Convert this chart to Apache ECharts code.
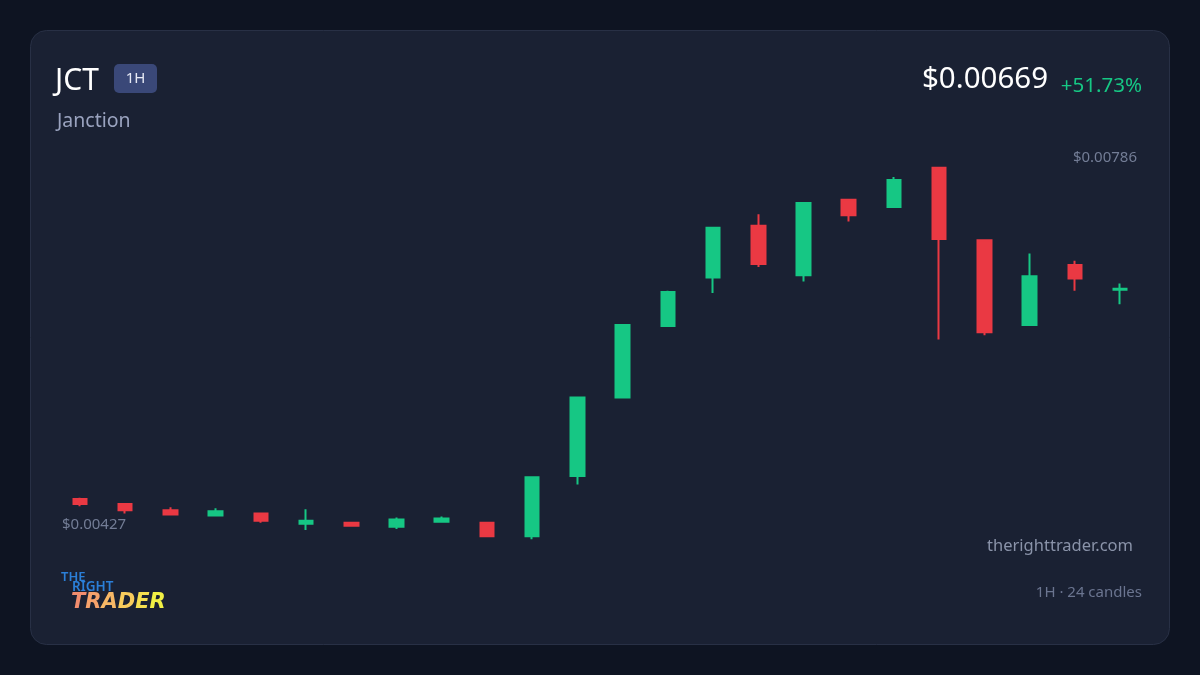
<!DOCTYPE html>
<html><head><meta charset="utf-8">
<script src="https://cdn.jsdelivr.net/npm/echarts@6/dist/echarts.min.js"></script>
<style>html,body{margin:0;padding:0;background:#0e1422;}#c{width:1200px;height:675px;}</style>
</head><body><div id="c"></div>
<script>
const categories = ['1','2','3','4','5','6','7','8','9','10','11','12','13','14','15','16','17','18','19','20','21','22','23','24'];
const opens  = [0.00466,0.00461,0.00455,0.00450,0.00452,0.00442,0.00443,0.00439,0.00444,0.00443,0.00430,0.00488,0.00564,0.00633,0.00680,0.00730,0.00682,0.00755,0.00748,0.00786,0.00716,0.00634,0.00692,0.00668];
const closes = [0.00461,0.00455,0.00451,0.00454,0.00445,0.00445,0.00440,0.00446,0.00447,0.00430,0.00487,0.00564,0.00634,0.00666,0.00728,0.00693,0.00752,0.00740,0.00774,0.00717,0.00627,0.00681,0.00679,0.00669];
const lows   = [0.00459,0.00452,0.00450,0.00449,0.00443,0.00436,0.00439,0.00437,0.00443,0.00430,0.00427,0.00480,0.00564,0.00632,0.00665,0.00690,0.00676,0.00734,0.00748,0.00620,0.00624,0.00634,0.00667,0.00654];
const highs  = [0.00467,0.00461,0.00458,0.00457,0.00452,0.00456,0.00444,0.00448,0.00449,0.00443,0.00487,0.00564,0.00634,0.00667,0.00728,0.00741,0.00752,0.00755,0.00777,0.00786,0.00716,0.00703,0.00696,0.00674];
const symbol = 'JCT', name = 'Janction', timeframe = '1H';
const lastPrice = '$0.00669', change = '+51.73%';
const highLabel = '$0.00786', lowLabel = '$0.00427';

const data = categories.map((c,i)=>[opens[i],closes[i],lows[i],highs[i]]);
const F = '"Noto Sans", "Open Sans", sans-serif';
const logoColors = ['#f28d6e','#f5a26b','#f7b866','#f8cc5c','#f5df4f','#f1f045'];
const logoRich = {};
logoColors.forEach((c,i)=>{ logoRich['l'+i] = {fill:c, fontFamily:'"DejaVu Sans", sans-serif', fontStyle:'italic', fontWeight:700, fontSize:21}; });
const logoText = 'TRADER'.split('').map((ch,i)=>'{l'+i+'|'+ch+'}').join('');

const chart = echarts.init(document.getElementById('c'), null, {renderer:'canvas'});
chart.setOption({
  backgroundColor:'#0e1422',
  animation:false,
  grid:{left:57.4, width:1085.2, top:153.2, height:414},
  xAxis:{type:'category', data:categories, boundaryGap:true, show:false},
  yAxis:{type:'value', min:0.0040, max:0.0080, show:false, splitLine:{show:false}},
  graphic:[
    {type:'rect', z:-10, shape:{x:30.5,y:30.5,width:1139,height:614,r:16}, style:{fill:'#1a2133', stroke:'#283045', lineWidth:1}},
    {type:'text', x:55, y:81, style:{text:symbol, fill:'#ffffff', font:'400 30px '+F, textVerticalAlign:'middle'}},
    {type:'rect', shape:{x:114,y:64,width:43,height:29,r:5}, style:{fill:'#3a4878'}},
    {type:'text', x:135.5, y:79, style:{text:timeframe, fill:'#e6e9f5', font:'400 15px '+F, textAlign:'center', textVerticalAlign:'middle'}},
    {type:'text', x:57, y:121, style:{text:name, fill:'#9aa3bf', font:'400 19.5px '+F, textVerticalAlign:'middle'}},
    {type:'text', x:1048, y:80, style:{text:lastPrice, fill:'#ffffff', font:'400 29.5px '+F, textAlign:'right', textVerticalAlign:'middle'}},
    {type:'text', x:1142, y:86, style:{text:change, fill:'#16c784', font:'400 20.5px '+F, textAlign:'right', textVerticalAlign:'middle'}},
    {type:'text', x:1137, y:158, style:{text:highLabel, fill:'#737d96', font:'400 15px '+F, textAlign:'right', textVerticalAlign:'middle'}},
    {type:'text', x:62, y:525, style:{text:lowLabel, fill:'#737d96', font:'400 15px '+F, textAlign:'left', textVerticalAlign:'middle'}},
    {type:'text', x:1133, y:546, style:{text:'therighttrader.com', fill:'#8a93a9', font:'400 16.5px '+F, textAlign:'right', textVerticalAlign:'middle'}},
    {type:'text', x:1142, y:593, style:{text:'1H · 24 candles', fill:'#6b7590', font:'400 15px '+F, textAlign:'right', textVerticalAlign:'middle'}},
    {type:'text', x:61, y:577, style:{text:'THE', fill:'#2b7fd8', font:'600 13px '+F, textVerticalAlign:'middle'}},
    {type:'text', x:72, y:587, style:{text:'RIGHT', fill:'#2b7fd8', font:'600 13.5px '+F, textVerticalAlign:'middle'}},
    {type:'text', x:71, y:603, style:{text:logoText, rich:logoRich, textVerticalAlign:'middle'}}
  ],
  series:[{
    type:'candlestick',
    data:data,
    barWidth:14,
    itemStyle:{color:'#16c784', color0:'#ea3943', borderColor:'#16c784', borderColor0:'#ea3943', borderWidth:2}
  }]
});
</script></body></html>
